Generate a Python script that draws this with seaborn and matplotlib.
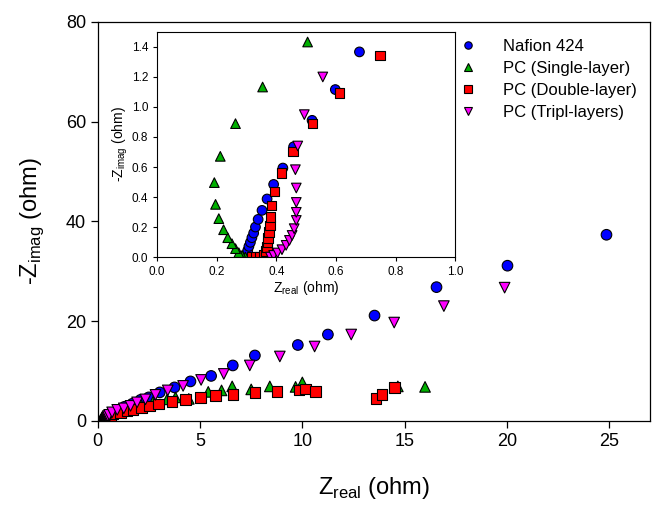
import pandas as pd
import numpy as np
import matplotlib
matplotlib.use('Agg')
import matplotlib.pyplot as plt
import seaborn as sns

# Impedance data (Z_real, -Z_imag in ohm)
nafion_real = [0.304, 0.302, 0.304, 0.308, 0.313, 0.318, 0.324, 0.330, 0.339, 0.352,
               0.369, 0.391, 0.422, 0.458, 0.520, 0.598, 0.679, 1.0, 1.3, 1.68, 2.09,
               2.49, 3.03, 3.75, 4.53, 5.54, 6.60, 7.68, 9.78, 11.25, 13.53, 16.56,
               20.03, 24.87]
nafion_imag = [0.004, 0.022, 0.044, 0.071, 0.098, 0.129, 0.160, 0.200, 0.251, 0.311,
               0.387, 0.484, 0.593, 0.735, 0.911, 1.116, 1.367, 2.2, 2.8, 3.4, 4.2,
               4.7, 5.7, 6.7, 7.9, 9.0, 11.1, 13.1, 15.2, 17.3, 21.1, 26.8,
               31.1, 37.3]

single_real = [0.296, 0.285, 0.274, 0.263, 0.251, 0.237, 0.223, 0.207, 0.196, 0.192,
               0.212, 0.263, 0.354, 0.505, 0.8, 1.2, 1.6, 2.1, 2.7, 3.39, 3.8,
               4.45, 5.4, 6.05, 6.57, 7.5, 8.41, 9.67, 10.0, 14.67, 16.0]
single_imag = [0.0, 0.011, 0.029, 0.056, 0.089, 0.129, 0.182, 0.256, 0.351, 0.496,
               0.671, 0.889, 1.133, 1.433, 1.8, 2.3, 2.8, 3.3, 3.8, 4.3, 4.7,
               4.4, 5.8, 6.1, 6.9, 6.3, 6.9, 6.8, 7.7, 6.9, 6.8]

double_real = [0.318, 0.330, 0.346, 0.358, 0.364, 0.369, 0.371, 0.373, 0.375, 0.378,
               0.380, 0.384, 0.394, 0.418, 0.456, 0.522, 0.612, 0.749, 1.11, 1.43,
               1.73, 2.13, 2.54, 2.98, 3.63, 4.29, 5.02, 5.75, 6.62, 7.68, 8.77,
               9.83, 10.15, 10.64, 13.6, 13.9, 14.5]
double_imag = [0.0, 0.0, 0.004, 0.018, 0.040, 0.067, 0.096, 0.129, 0.167, 0.211,
               0.267, 0.344, 0.438, 0.562, 0.704, 0.889, 1.093, 1.344, 1.7, 2.0,
               2.3, 2.7, 3.0, 3.4, 3.9, 4.3, 4.7, 5.1, 5.3, 5.7, 5.9,
               6.2, 6.4, 5.9, 4.5, 5.3, 6.7]

triple_real = [0.380, 0.391, 0.404, 0.419, 0.433, 0.444, 0.453, 0.460, 0.467, 0.467,
               0.467, 0.467, 0.464, 0.472, 0.494, 0.556, 0.70, 0.95, 1.27, 1.60,
               1.92, 2.33, 2.82, 3.42, 4.17, 5.05, 6.16, 7.43, 8.90, 10.6, 12.39,
               14.49, 16.92, 19.89]
triple_imag = [0.0, 0.011, 0.027, 0.049, 0.078, 0.111, 0.144, 0.189, 0.244, 0.298,
               0.364, 0.460, 0.582, 0.740, 0.949, 1.200, 1.7, 2.2, 2.5, 3.0,
               3.7, 4.3, 5.2, 6.1, 7.0, 8.2, 9.4, 11.1, 12.9, 14.9, 17.3,
               19.7, 23.0, 26.7]

labels = ['Nafion 424', 'PC (Single-layer)', 'PC (Double-layer)', 'PC (Tripl-layers)']

frames = []
for lab, xr, yi in zip(labels,
                       [nafion_real, single_real, double_real, triple_real],
                       [nafion_imag, single_imag, double_imag, triple_imag]):
    frames.append(pd.DataFrame({'Zreal': xr, 'Zimag': yi, 'Sample': lab}))
df = pd.concat(frames, ignore_index=True)

colors = {labels[0]: '#0000ff', labels[1]: '#00b000', labels[2]: '#ff0000', labels[3]: '#ff00ff'}
markers = {labels[0]: 'o', labels[1]: '^', labels[2]: 's', labels[3]: 'v'}

sns.set_style('ticks')
plt.rcParams['font.family'] = ['Liberation Sans', 'DejaVu Sans']
plt.rcParams['text.color'] = 'black'
plt.rcParams['axes.labelcolor'] = 'black'
plt.rcParams['xtick.color'] = 'black'
plt.rcParams['ytick.color'] = 'black'
plt.rcParams['axes.edgecolor'] = 'black'

fig = plt.figure(figsize=(6.52, 5.07), dpi=100)
ax = fig.add_axes([0.150, 0.170, 0.847, 0.787])

sns.scatterplot(data=df, x='Zreal', y='Zimag', hue='Sample', style='Sample',
                palette=colors, markers=markers, s=58, edgecolor='black',
                linewidth=0.8, ax=ax, legend=True)
ax.set_xlim(0, 27)
ax.set_ylim(0, 80)
ax.set_xticks([0, 5, 10, 15, 20, 25])
ax.set_yticks([0, 20, 40, 60, 80])
ax.tick_params(labelsize=13, length=5, width=0.9, direction='out')
ax.set_xlabel('Z$_\\mathregular{real}$ (ohm)', fontsize=17, labelpad=18)
ax.set_ylabel('-Z$_\\mathregular{imag}$ (ohm)', fontsize=17, labelpad=14)
for sp in ax.spines.values():
    sp.set_linewidth(0.9)

handles, lbls = ax.get_legend_handles_labels()
ax.get_legend().remove()

# inset zoom on the high-frequency region
axin = fig.add_axes([0.241, 0.493, 0.457, 0.444])
sns.scatterplot(data=df, x='Zreal', y='Zimag', hue='Sample', style='Sample',
                palette=colors, markers=markers, s=48, edgecolor='black',
                linewidth=0.8, ax=axin, legend=False)
axin.set_xlim(0, 1.0)
axin.set_ylim(0, 1.5)
axin.set_xticks(np.arange(0, 1.01, 0.2))
axin.set_yticks(np.arange(0, 1.41, 0.2))
axin.set_xticklabels(['0.0', '0.2', '0.4', '0.6', '0.8', '1.0'])
axin.set_yticklabels(['0.0', '0.2', '0.4', '0.6', '0.8', '1.0', '1.2', '1.4'])
axin.tick_params(labelsize=8.5, length=3, width=0.8, direction='out')
axin.set_xlabel('Z$_\\mathregular{real}$ (ohm)', fontsize=10, labelpad=1)
axin.set_ylabel('-Z$_\\mathregular{imag}$ (ohm)', fontsize=10, labelpad=1)
for sp in axin.spines.values():
    sp.set_linewidth(0.8)

# legend to the right of the inset, no frame, drawn on top
fig.legend(handles, lbls, loc='upper left', bbox_to_anchor=(0.7055, 0.923),
           frameon=False, fontsize=12, markerscale=0.7, handlelength=1.0,
           handletextpad=1.6, labelspacing=0.42, borderpad=0, borderaxespad=0)

fig.savefig('out.png', dpi=100)
